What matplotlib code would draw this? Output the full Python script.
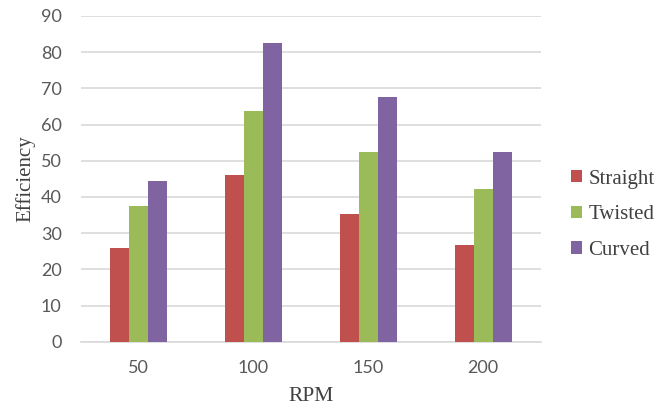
import numpy as np
import matplotlib.pyplot as plt

# data
rpm = ['50', '100', '150', '200']
straight = [25.8, 46.1, 35.3, 26.7]
twisted = [37.6, 63.6, 52.5, 42.3]
curved = [44.4, 82.4, 67.5, 52.5]

series = ['Straight', 'Twisted', 'Curved']
colors = ['#c0504d', '#9bbb59', '#8064a2']

fig = plt.figure(figsize=(6.7, 4.16), dpi=100)
ax = fig.add_axes([0.121, 0.178, 0.686, 0.784])

x = np.arange(len(rpm))
w = 0.165
for i, (name, vals) in enumerate(zip(series, [straight, twisted, curved])):
    ax.bar(x + (i - 1) * w, vals, width=w, color=colors[i], label=name, zorder=3)

ax.set_xlim(-0.5, len(rpm) - 0.5)
ax.set_ylim(0, 90)
ax.set_yticks(range(0, 91, 10))
ax.set_xticks(x)
ax.set_xticklabels(rpm)
ax.yaxis.grid(True, color='#d9d9d9', linewidth=1.2, zorder=0)
for s in ['top', 'right', 'left']:
    ax.spines[s].set_visible(False)
ax.spines['bottom'].set_color('#d9d9d9')
ax.spines['bottom'].set_linewidth(1.2)
ax.tick_params(length=0, labelsize=13, labelcolor='#595959')
for lab in ax.get_xticklabels() + ax.get_yticklabels():
    lab.set_family('Lato')
ax.tick_params(axis='y', pad=14)
ax.tick_params(axis='x', pad=13)

ax.set_xlabel('RPM', family='Liberation Serif', fontsize=15.5, color='#404040', labelpad=8)
ax.set_ylabel('Efficiency', family='Liberation Serif', fontsize=15, color='#404040', labelpad=4)

leg = ax.legend(loc='center left', bbox_to_anchor=(1.065, 0.39), frameon=False,
                borderaxespad=0, borderpad=0,
                prop={'family': 'Liberation Serif', 'size': 15},
                handlelength=0.55, handleheight=0.55, handletextpad=0.3, labelspacing=0.8)
for t in leg.get_texts():
    t.set_color('#404040')

fig.savefig('out.png', dpi=100)
